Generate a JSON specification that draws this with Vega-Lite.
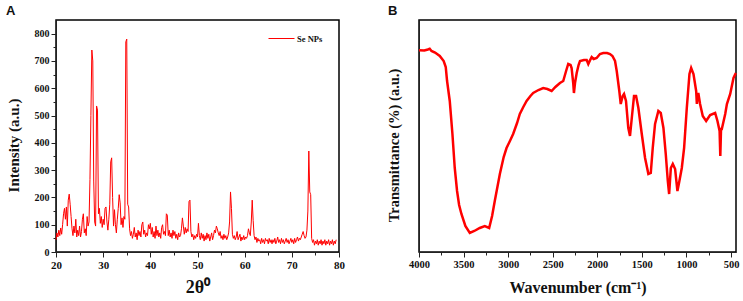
{
  "$schema": "https://vega.github.io/schema/vega-lite/v6.json",
  "background": "white",
  "padding": {"left": 5, "top": 4, "right": 3, "bottom": 4},
  "bounds": "flush",
  "spacing": 80,
  "resolve": {"scale": {"color": "independent"}, "legend": {"color": "independent"}},
  "config": {
    "view": {"stroke": "#000000", "strokeWidth": 1.5, "strokeOpacity": 1},
    "axis": {
      "grid": false,
      "labelFont": "Liberation Serif", "labelFontWeight": "bold", "labelColor": "#111",
      "titleFont": "Liberation Serif", "titleFontWeight": "bold", "titleColor": "#111",
      "domainColor": "#222", "tickColor": "#222", "labelFlush": false, "labelOverlap": false
    },
    "title": {"font": "Liberation Sans", "fontWeight": "bold", "fontSize": 13, "anchor": "start", "frame": "group", "baseline": "alphabetic", "offset": 2, "color": "#111"}
  },
  "hconcat": [
    {
      "width": 283, "height": 232,
      "title": {"text": "A", "dx": -50},
      "data": {"values": [
        {"t":20.0,"i":45},{"t":20.2,"i":70},{"t":20.4,"i":55},{"t":20.6,"i":80},{"t":20.8,"i":60},{"t":21.0,"i":88},{"t":21.2,"i":65},{"t":21.4,"i":100},{"t":21.6,"i":140},{"t":21.8,"i":160},
        {"t":22.0,"i":120},{"t":22.2,"i":165},{"t":22.4,"i":95},{"t":22.6,"i":190},{"t":22.8,"i":212},{"t":23.0,"i":175},{"t":23.2,"i":130},{"t":23.4,"i":85},{"t":23.6,"i":60},{"t":23.8,"i":95},
        {"t":24.0,"i":70},{"t":24.2,"i":120},{"t":24.4,"i":55},{"t":24.6,"i":80},{"t":24.8,"i":60},{"t":25.0,"i":95},{"t":25.2,"i":55},{"t":25.4,"i":75},{"t":25.6,"i":120},{"t":25.8,"i":140},
        {"t":26.0,"i":70},{"t":26.2,"i":85},{"t":26.4,"i":60},{"t":26.6,"i":130},{"t":26.8,"i":95},{"t":27.0,"i":110},{"t":27.2,"i":265},{"t":27.4,"i":500},{"t":27.6,"i":740},{"t":27.8,"i":700},
        {"t":28.0,"i":260},{"t":28.2,"i":110},{"t":28.4,"i":95},{"t":28.6,"i":535},{"t":28.8,"i":520},{"t":29.0,"i":140},{"t":29.2,"i":160},{"t":29.4,"i":105},{"t":29.6,"i":130},{"t":29.8,"i":90},
        {"t":30.0,"i":120},{"t":30.2,"i":100},{"t":30.4,"i":160},{"t":30.6,"i":165},{"t":30.8,"i":110},{"t":31.0,"i":80},{"t":31.2,"i":120},{"t":31.4,"i":175},{"t":31.6,"i":330},{"t":31.8,"i":345},
        {"t":32.0,"i":200},{"t":32.2,"i":95},{"t":32.4,"i":155},{"t":32.6,"i":100},{"t":32.8,"i":70},{"t":33.0,"i":120},{"t":33.2,"i":160},{"t":33.4,"i":210},{"t":33.6,"i":180},{"t":33.8,"i":100},
        {"t":34.0,"i":125},{"t":34.2,"i":90},{"t":34.4,"i":130},{"t":34.6,"i":120},{"t":34.8,"i":770},{"t":35.0,"i":780},{"t":35.2,"i":175},{"t":35.4,"i":165},{"t":35.6,"i":85},{"t":35.8,"i":60},
        {"t":36.0,"i":75},{"t":36.2,"i":50},{"t":36.4,"i":65},{"t":36.6,"i":90},{"t":36.8,"i":55},{"t":37.0,"i":70},{"t":37.2,"i":45},{"t":37.4,"i":80},{"t":37.6,"i":60},{"t":37.8,"i":75},
        {"t":38.0,"i":55},{"t":38.2,"i":100},{"t":38.4,"i":110},{"t":38.6,"i":65},{"t":38.8,"i":80},{"t":39.0,"i":55},{"t":39.2,"i":70},{"t":39.4,"i":60},{"t":39.6,"i":100},{"t":39.8,"i":85},
        {"t":40.0,"i":105},{"t":40.2,"i":65},{"t":40.4,"i":90},{"t":40.6,"i":55},{"t":40.8,"i":75},{"t":41.0,"i":50},{"t":41.2,"i":95},{"t":41.4,"i":60},{"t":41.6,"i":80},{"t":41.8,"i":55},
        {"t":42.0,"i":70},{"t":42.2,"i":50},{"t":42.4,"i":90},{"t":42.6,"i":100},{"t":42.8,"i":65},{"t":43.0,"i":75},{"t":43.2,"i":60},{"t":43.4,"i":140},{"t":43.6,"i":135},{"t":43.8,"i":60},
        {"t":44.0,"i":80},{"t":44.2,"i":55},{"t":44.4,"i":70},{"t":44.6,"i":50},{"t":44.8,"i":80},{"t":45.0,"i":60},{"t":45.2,"i":75},{"t":45.4,"i":50},{"t":45.6,"i":65},{"t":45.8,"i":45},
        {"t":46.0,"i":70},{"t":46.2,"i":55},{"t":46.4,"i":60},{"t":46.6,"i":85},{"t":46.8,"i":125},{"t":47.0,"i":95},{"t":47.2,"i":65},{"t":47.4,"i":90},{"t":47.6,"i":70},{"t":47.8,"i":85},
        {"t":48.0,"i":75},{"t":48.2,"i":185},{"t":48.4,"i":190},{"t":48.6,"i":75},{"t":48.8,"i":55},{"t":49.0,"i":65},{"t":49.2,"i":45},{"t":49.4,"i":60},{"t":49.6,"i":50},{"t":49.8,"i":65},
        {"t":50.0,"i":55},{"t":50.2,"i":105},{"t":50.4,"i":60},{"t":50.6,"i":45},{"t":50.8,"i":70},{"t":51.0,"i":50},{"t":51.2,"i":65},{"t":51.4,"i":40},{"t":51.6,"i":60},{"t":51.8,"i":45},
        {"t":52.0,"i":70},{"t":52.2,"i":50},{"t":52.4,"i":65},{"t":52.6,"i":40},{"t":52.8,"i":55},{"t":53.0,"i":70},{"t":53.2,"i":45},{"t":53.4,"i":60},{"t":53.6,"i":80},{"t":53.8,"i":70},
        {"t":54.0,"i":95},{"t":54.2,"i":85},{"t":54.4,"i":70},{"t":54.6,"i":60},{"t":54.8,"i":75},{"t":55.0,"i":50},{"t":55.2,"i":60},{"t":55.4,"i":45},{"t":55.6,"i":65},{"t":55.8,"i":50},
        {"t":56.0,"i":60},{"t":56.2,"i":45},{"t":56.4,"i":55},{"t":56.6,"i":70},{"t":56.8,"i":110},{"t":57.0,"i":220},{"t":57.2,"i":160},{"t":57.4,"i":65},{"t":57.6,"i":50},{"t":57.8,"i":60},
        {"t":58.0,"i":45},{"t":58.2,"i":55},{"t":58.4,"i":75},{"t":58.6,"i":45},{"t":58.8,"i":55},{"t":59.0,"i":65},{"t":59.2,"i":40},{"t":59.4,"i":55},{"t":59.6,"i":45},{"t":59.8,"i":60},
        {"t":60.0,"i":45},{"t":60.2,"i":55},{"t":60.4,"i":50},{"t":60.6,"i":60},{"t":60.8,"i":85},{"t":61.0,"i":70},{"t":61.2,"i":60},{"t":61.4,"i":110},{"t":61.6,"i":190},{"t":61.8,"i":115},
        {"t":62.0,"i":60},{"t":62.2,"i":45},{"t":62.4,"i":55},{"t":62.6,"i":35},{"t":62.8,"i":50},{"t":63.0,"i":40},{"t":63.2,"i":45},{"t":63.4,"i":30},{"t":63.6,"i":50},{"t":63.8,"i":35},
        {"t":64.0,"i":45},{"t":64.2,"i":30},{"t":64.4,"i":50},{"t":64.6,"i":40},{"t":64.8,"i":45},{"t":65.0,"i":30},{"t":65.2,"i":50},{"t":65.4,"i":35},{"t":65.6,"i":45},{"t":65.8,"i":30},
        {"t":66.0,"i":45},{"t":66.2,"i":35},{"t":66.4,"i":50},{"t":66.6,"i":30},{"t":66.8,"i":40},{"t":67.0,"i":55},{"t":67.2,"i":35},{"t":67.4,"i":45},{"t":67.6,"i":30},{"t":67.8,"i":50},
        {"t":68.0,"i":35},{"t":68.2,"i":45},{"t":68.4,"i":30},{"t":68.6,"i":40},{"t":68.8,"i":50},{"t":69.0,"i":35},{"t":69.2,"i":45},{"t":69.4,"i":30},{"t":69.6,"i":40},{"t":69.8,"i":50},
        {"t":70.0,"i":35},{"t":70.2,"i":45},{"t":70.4,"i":30},{"t":70.6,"i":50},{"t":70.8,"i":35},{"t":71.0,"i":45},{"t":71.2,"i":55},{"t":71.4,"i":40},{"t":71.6,"i":50},{"t":71.8,"i":45},
        {"t":72.0,"i":55},{"t":72.2,"i":65},{"t":72.4,"i":75},{"t":72.6,"i":60},{"t":72.8,"i":50},{"t":73.0,"i":55},{"t":73.2,"i":80},{"t":73.4,"i":150},{"t":73.6,"i":370},{"t":73.8,"i":220},
        {"t":74.0,"i":210},{"t":74.2,"i":50},{"t":74.4,"i":35},{"t":74.6,"i":45},{"t":74.8,"i":25},{"t":75.0,"i":40},{"t":75.2,"i":30},{"t":75.4,"i":45},{"t":75.6,"i":25},{"t":75.8,"i":40},
        {"t":76.0,"i":30},{"t":76.2,"i":45},{"t":76.4,"i":25},{"t":76.6,"i":40},{"t":76.8,"i":30},{"t":77.0,"i":45},{"t":77.2,"i":25},{"t":77.4,"i":40},{"t":77.6,"i":30},{"t":77.8,"i":45},
        {"t":78.0,"i":25},{"t":78.2,"i":40},{"t":78.4,"i":30},{"t":78.6,"i":45},{"t":78.8,"i":25},{"t":79.0,"i":40},{"t":79.2,"i":30},{"t":79.4,"i":45}
      ]},
      "mark": {"type": "line", "strokeWidth": 1},
      "encoding": {
        "x": {
          "field": "t", "type": "quantitative",
          "scale": {"domain": [20, 80], "nice": false, "zero": false},
          "axis": {
            "title": "2θ⁰", "titleFontSize": 18, "titlePadding": 8,
            "values": [20,25,30,35,40,45,50,55,60,65,70,75,80],
            "labelExpr": "datum.value % 10 === 0 ? datum.label : ''",
            "labelFontSize": 11, "labelPadding": 2,
            "tickSize": {"condition": {"test": "datum.value % 10 === 0", "value": 5}, "value": 3}
          }
        },
        "y": {
          "field": "i", "type": "quantitative",
          "scale": {"domain": [0, 850], "nice": false},
          "axis": {
            "title": "Intensity (a.u.)", "titleFontSize": 15, "titlePadding": 13, "titleY": 125,
            "values": [0,50,100,150,200,250,300,350,400,450,500,550,600,650,700,750,800],
            "labelExpr": "datum.value % 100 === 0 ? datum.label : ''",
            "labelFontSize": 10, "labelPadding": 2,
            "tickSize": {"condition": {"test": "datum.value % 100 === 0", "value": 5}, "value": 3}
          }
        },
        "color": {
          "datum": "Se NPs", "type": "nominal",
          "scale": {"range": ["#ff0000"]},
          "legend": {
            "title": null, "orient": "none", "legendX": 212, "legendY": 5,
            "symbolType": "stroke", "symbolSize": 676, "symbolStrokeWidth": 1,
            "labelFont": "Liberation Serif", "labelFontWeight": "bold", "labelFontSize": 8.5, "labelColor": "#111",
            "padding": 0, "labelOffset": 2
          }
        }
      }
    },
    {
      "width": 317, "height": 232,
      "title": {"text": "B", "dx": -31},
      "data": {"values": [
        {"w":4000,"t":201.7},{"w":3940,"t":201.5},{"w":3900,"t":202.5},{"w":3880,"t":203.3},{"w":3860,"t":201},{"w":3820,"t":199.5},{"w":3767,"t":196},{"w":3723,"t":191},{"w":3700,"t":185},{"w":3685,"t":171},
        {"w":3655,"t":151},{"w":3625,"t":118},{"w":3599,"t":84},{"w":3573,"t":61},{"w":3550,"t":47},{"w":3524,"t":38},{"w":3480,"t":26},{"w":3430,"t":19},{"w":3380,"t":21},{"w":3318,"t":24},
        {"w":3262,"t":26},{"w":3213,"t":24},{"w":3180,"t":36},{"w":3150,"t":51},{"w":3093,"t":78},{"w":3050,"t":95},{"w":3018,"t":104},{"w":2980,"t":111},{"w":2944,"t":118},{"w":2900,"t":129},
        {"w":2869,"t":138},{"w":2830,"t":145},{"w":2793,"t":151},{"w":2750,"t":156},{"w":2719,"t":159},{"w":2660,"t":162},{"w":2607,"t":164},{"w":2560,"t":163},{"w":2512,"t":161},{"w":2470,"t":165},
        {"w":2419,"t":169},{"w":2382,"t":171},{"w":2350,"t":181},{"w":2326,"t":188},{"w":2300,"t":187},{"w":2288,"t":184},{"w":2270,"t":169},{"w":2262,"t":159},{"w":2250,"t":169},{"w":2231,"t":179},
        {"w":2210,"t":187},{"w":2194,"t":191},{"w":2150,"t":192},{"w":2119,"t":192},{"w":2101,"t":188},{"w":2080,"t":192},{"w":2063,"t":195},{"w":2040,"t":193},{"w":2007,"t":194},{"w":1970,"t":198},
        {"w":1933,"t":199},{"w":1890,"t":199},{"w":1857,"t":198},{"w":1830,"t":196},{"w":1801,"t":191},{"w":1782,"t":181},{"w":1753,"t":161},{"w":1737,"t":148},{"w":1715,"t":156},{"w":1700,"t":158},
        {"w":1678,"t":151},{"w":1652,"t":124},{"w":1633,"t":116},{"w":1613,"t":134},{"w":1588,"t":156},{"w":1565,"t":156},{"w":1539,"t":144},{"w":1501,"t":118},{"w":1464,"t":94},{"w":1427,"t":78},
        {"w":1400,"t":79},{"w":1378,"t":104},{"w":1352,"t":128},{"w":1315,"t":141},{"w":1288,"t":139},{"w":1258,"t":124},{"w":1232,"t":98},{"w":1209,"t":71},{"w":1194,"t":58},{"w":1175,"t":84},
        {"w":1153,"t":88},{"w":1127,"t":83},{"w":1101,"t":61},{"w":1079,"t":71},{"w":1052,"t":84},{"w":1026,"t":104},{"w":996,"t":144},{"w":966,"t":178},{"w":947,"t":184},{"w":921,"t":178},
        {"w":891,"t":161},{"w":883,"t":148},{"w":875,"t":158},{"w":865,"t":158},{"w":847,"t":148},{"w":817,"t":136},{"w":779,"t":131},{"w":734,"t":137},{"w":678,"t":139},{"w":652,"t":131},
        {"w":628,"t":121},{"w":620,"t":96},{"w":612,"t":123},{"w":603,"t":123},{"w":565,"t":138},{"w":546,"t":148},{"w":509,"t":158},{"w":472,"t":174},{"w":446,"t":179}
      ]},
      "mark": {"type": "line", "strokeWidth": 2.5, "color": "#ff0000"},
      "encoding": {
        "x": {
          "field": "w", "type": "quantitative",
          "scale": {"domain": [4000, 444], "nice": false, "zero": false},
          "axis": {
            "title": "Wavenumber (cm⁻¹)", "titleFontSize": 16, "titlePadding": 10,
            "values": [4000,3750,3500,3250,3000,2750,2500,2250,2000,1750,1500,1250,1000,750,500],
            "labelExpr": "datum.value % 500 === 0 ? datum.label : ''",
            "format": "d",
            "labelFontSize": 10.5, "labelPadding": 2,
            "tickSize": {"condition": {"test": "datum.value % 500 === 0", "value": 5}, "value": 3}
          }
        },
        "y": {
          "field": "t", "type": "quantitative",
          "scale": {"domain": [0, 232], "nice": false},
          "axis": {
            "title": "Transmittance (%) (a.u.)", "titleFontSize": 14.5, "titlePadding": 18, "titleY": 125,
            "labels": false, "ticks": false
          }
        }
      }
    }
  ]
}
